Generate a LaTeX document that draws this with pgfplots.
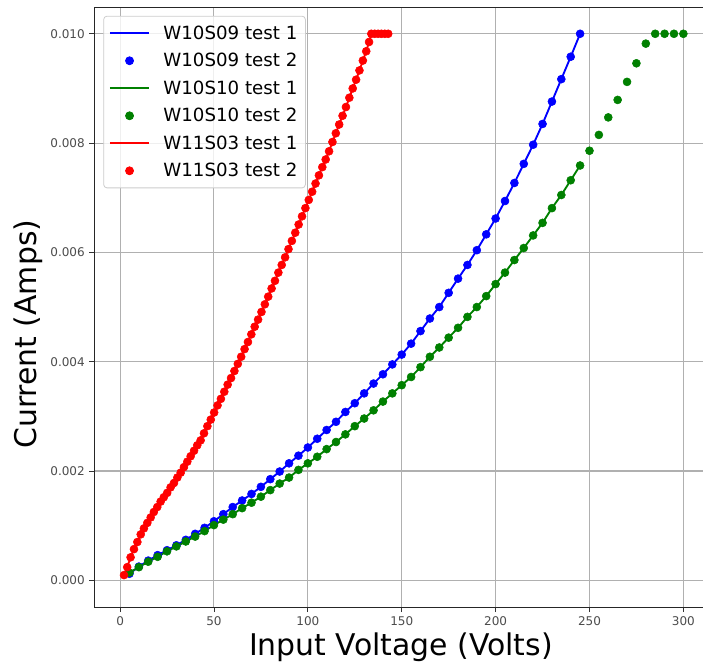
\documentclass[border=0pt]{standalone}
\usepackage{fontspec}
\setmainfont{DejaVu Sans}
\usepackage{pgfplots}
\usepackage{pgfplotstable}
\pgfplotsset{compat=1.18}

\definecolor{mplblue}{HTML}{0000FF}
\definecolor{mplgreen}{HTML}{008000}
\definecolor{mplred}{HTML}{FF0000}
\definecolor{gridgray}{HTML}{B0B0B0}

% W10S09 (both tests)
\pgfplotstableread{
V I
5 0.00012
10 0.00025
15 0.00036
20 0.00046
25 0.00055
30 0.00064
35 0.00074
40 0.00085
45 0.00096
50 0.00108
55 0.00121
60 0.00134
65 0.00146
70 0.00158
75 0.00171
80 0.00185
85 0.00199
90 0.00214
95 0.00228
100 0.00243
105 0.00259
110 0.00275
115 0.00290
120 0.00308
125 0.00324
130 0.00342
135 0.00360
140 0.00377
145 0.00395
150 0.00413
155 0.00433
160 0.00456
165 0.00479
170 0.00500
175 0.00526
180 0.00552
185 0.00577
190 0.00604
195 0.00633
200 0.00662
205 0.00694
210 0.00727
215 0.00762
220 0.00797
225 0.00835
230 0.00876
235 0.00917
240 0.00958
245 0.01000
}\wbnine

% W10S10 test 1 (line, stops at 245 V)
\pgfplotstableread{
V I
5 0.00014
10 0.00024
15 0.00034
20 0.00043
25 0.00053
30 0.00062
35 0.00071
40 0.00080
45 0.00090
50 0.00101
55 0.00111
60 0.00121
65 0.00132
70 0.00142
75 0.00153
80 0.00165
85 0.00177
90 0.00188
95 0.00202
100 0.00214
105 0.00226
110 0.00240
115 0.00253
120 0.00267
125 0.00282
130 0.00296
135 0.00311
140 0.00327
145 0.00342
150 0.00357
155 0.00372
160 0.00390
165 0.00409
170 0.00426
175 0.00444
180 0.00462
185 0.00482
190 0.00500
195 0.00520
200 0.00542
205 0.00563
210 0.00586
215 0.00608
220 0.00631
225 0.00654
230 0.00681
235 0.00705
240 0.00732
245 0.00759
}\wbtenA

% W10S10 test 2 (dots, up to 300 V)
\pgfplotstableread{
V I
5 0.00014
10 0.00024
15 0.00034
20 0.00043
25 0.00053
30 0.00062
35 0.00071
40 0.00080
45 0.00090
50 0.00101
55 0.00111
60 0.00121
65 0.00132
70 0.00142
75 0.00153
80 0.00165
85 0.00177
90 0.00188
95 0.00202
100 0.00214
105 0.00226
110 0.00240
115 0.00253
120 0.00267
125 0.00282
130 0.00296
135 0.00311
140 0.00327
145 0.00342
150 0.00357
155 0.00372
160 0.00390
165 0.00409
170 0.00426
175 0.00444
180 0.00462
185 0.00482
190 0.00500
195 0.00520
200 0.00542
205 0.00563
210 0.00586
215 0.00608
220 0.00631
225 0.00654
230 0.00681
235 0.00705
240 0.00732
245 0.00759
250 0.00786
255 0.00815
260 0.00847
265 0.00879
270 0.00912
275 0.00946
280 0.00982
285 0.01000
290 0.01000
295 0.01000
300 0.01000
}\wbtenB

% W11S03 (both tests)
\pgfplotstableread{
V I
2.1 0.000095
3.8 0.00024
5.6 0.00042
7.4 0.00057
9.2 0.00070
11.0 0.00084
12.7 0.00095
14.5 0.00105
16.3 0.00115
18.0 0.00125
19.8 0.00134
21.6 0.00144
23.3 0.00152
25.1 0.00160
26.9 0.00170
28.7 0.00178
30.5 0.00188
32.3 0.00197
34.0 0.00207
35.8 0.00217
37.6 0.00227
39.4 0.00237
41.1 0.00247
42.9 0.00256
44.7 0.00269
46.5 0.00282
48.3 0.00294
50.1 0.00307
51.9 0.00320
53.7 0.00332
55.5 0.00345
57.3 0.00358
59.1 0.00370
60.9 0.00383
62.7 0.00396
64.5 0.00409
66.3 0.00423
68.1 0.00436
69.9 0.00450
71.7 0.00464
73.5 0.00477
75.3 0.00491
77.1 0.00505
78.9 0.00519
80.7 0.00534
82.5 0.00548
84.3 0.00563
86.1 0.00577
87.9 0.00591
89.7 0.00606
91.5 0.00621
93.3 0.00636
95.1 0.00651
96.9 0.00666
98.7 0.00681
100.5 0.00696
102.3 0.00711
104.1 0.00726
105.9 0.00741
107.7 0.00756
109.5 0.00770
111.3 0.00785
113.1 0.00802
114.9 0.00818
116.7 0.00834
118.5 0.00850
120.3 0.00866
122.1 0.00883
123.9 0.00900
125.7 0.00916
127.5 0.00933
129.3 0.00951
131.1 0.00968
132.6 0.00985
133.8 0.01000
135.6 0.01000
137.4 0.01000
139.2 0.01000
141.0 0.01000
142.8 0.01000
}\wbeleven

\begin{document}
\begin{tikzpicture}
\begin{axis}[scale only axis, width=459.8pt, height=450.2pt,
  at={(0,0)}, anchor=south west,
  xmin=-13.74, xmax=312.8, ymin=-0.000496, ymax=0.010489,
  xtick={0,50,100,150,200,250,300},
  ytick={0,0.002,0.004,0.006,0.008,0.010},
  scaled y ticks=false,
  yticklabel style={/pgf/number format/.cd, fixed, fixed zerofill, precision=3},
  /pgf/number format/assume math mode=true,
  tick label style={font=\fontsize{9}{10}\selectfont, text=black!70},
  tick align=outside, tick pos=left, major tick length=3.6pt,
  every tick/.style={black!80, line width=0.6pt},
  axis line style={black!85, line width=0.8pt},
  grid=major, grid style={gridgray, line width=0.8pt},
  xlabel={Input Voltage (Volts)}, ylabel={Current (Amps)},
  every axis x label/.style={at={(axis description cs:0.5,-0.0795)}, anchor=base,
    font=\fontsize{22.4}{26}\selectfont},
  every axis y label/.style={at={(axis description cs:-0.0946,0.455)}, rotate=90, anchor=base,
    font=\fontsize{22.4}{26}\selectfont},
  legend image code/.code={\draw[fill opacity=1, mark repeat=2, mark phase=2, #1]
    plot coordinates {(0pt,0pt) (14.7pt,0pt) (29.4pt,0pt)};},
  legend cell align=left,
  legend style={at={(axis description cs:0.0147,0.9855)}, anchor=north west,
    font=\fontsize{13.65}{16}\selectfont, draw=black!20, line width=0.6pt,
    rounded corners=2.5pt, fill=white, fill opacity=0.8, text opacity=1,
    inner xsep=4pt, inner ysep=5pt, row sep=5pt, column sep=8pt},
  ]
\addplot[mplblue, line width=1.4pt, no markers] table[x=V, y=I] {\wbnine};
\addlegendentry{W10S09 test 1}
\addplot[mplblue, only marks, mark=*, mark size=3pt] table[x=V, y=I] {\wbnine};
\addlegendentry{W10S09 test 2}
\addplot[mplgreen, line width=1.4pt, no markers] table[x=V, y=I] {\wbtenA};
\addlegendentry{W10S10 test 1}
\addplot[mplgreen, only marks, mark=*, mark size=3pt] table[x=V, y=I] {\wbtenB};
\addlegendentry{W10S10 test 2}
\addplot[mplred, line width=1.4pt, no markers] table[x=V, y=I] {\wbeleven};
\addlegendentry{W11S03 test 1}
\addplot[mplred, only marks, mark=*, mark size=3pt] table[x=V, y=I] {\wbeleven};
\addlegendentry{W11S03 test 2}
\end{axis}
\pgfresetboundingbox
\path[use as bounding box] (-70.7pt,-42.5pt) rectangle (456.5pt,455.5pt);
\end{tikzpicture}
\end{document}
